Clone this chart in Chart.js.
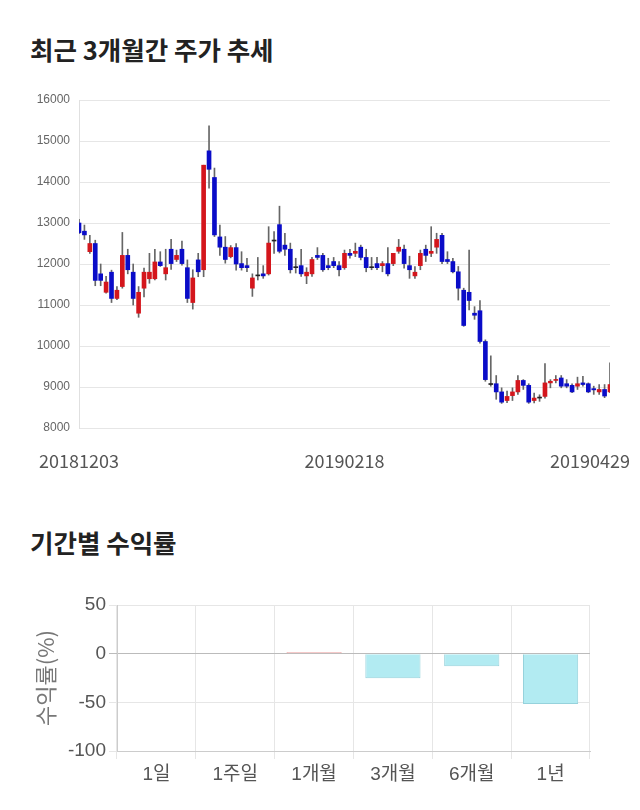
<!DOCTYPE html>
<html>
<head>
<meta charset="utf-8">
<script src="https://cdn.jsdelivr.net/npm/chart.js@4.4.1/dist/chart.umd.min.js"></script>
<style>
  body { margin: 0; background: #fff; width: 640px; height: 810px; position: relative; overflow: hidden; }
  h2 { position: absolute; left: 30px; margin: 0; font-family: "Noto Sans CJK KR", sans-serif; font-weight: bold; font-size: 25.5px; color: #222; line-height: 30px; }
  canvas { position: absolute; left: 0; }
</style>
</head>
<body>
<h2 style="top:34px">최근 3개월간 주가 추세</h2>
<canvas id="priceChart" width="640" height="400" style="top:80px"></canvas>
<h2 style="top:527px">기간별 수익률</h2>
<canvas id="returnChart" width="640" height="215" style="top:585px"></canvas>
<script>
// trading days, 2018-12-03 .. 2019-04-29
const dates = [
  '20181203','20181204','20181205','20181206','20181207','20181210','20181211','20181212','20181213','20181214',
  '20181217','20181218','20181219','20181220','20181221','20181224','20181226','20181227','20181228',
  '20190102','20190103','20190104','20190107','20190108','20190109','20190110','20190111','20190114','20190115',
  '20190116','20190117','20190118','20190121','20190122','20190123','20190124','20190125','20190128','20190129',
  '20190130','20190131','20190201','20190207','20190208','20190211','20190212','20190213','20190214','20190215',
  '20190218','20190219','20190220','20190221','20190222','20190225','20190226','20190227','20190228',
  '20190304','20190305','20190306','20190307','20190308','20190311','20190312','20190313','20190314','20190315',
  '20190318','20190319','20190320','20190321','20190322','20190325','20190326','20190327','20190328','20190329',
  '20190401','20190402','20190403','20190404','20190405','20190408','20190409','20190410','20190411','20190412',
  '20190415','20190416','20190417','20190418','20190419','20190422','20190423','20190424','20190425','20190426',
  '20190429'
];
const dateTicks = ['20181203', '20190218', '20190429'];

const opens = [
  13000,12800,12300,12500,11760,11310,11800,11160,11450,12210,11800,10800,11410,11640,11640,12050,11760,12360,12110,12360,
  11910,11060,12100,11860,14760,14110,12660,12410,12180,12400,12010,11960,11410,11710,11760,11760,12560,12960,12460,12360,
  11910,11960,11710,11760,12210,12210,11960,12060,11960,11910,12260,12260,12410,12160,11910,12010,11960,12010,12010,12310,
  12360,11960,11710,11960,12360,12260,12410,12700,12110,12060,11810,11360,11310,10800,10860,10110,9060,9080,8880,8670,
  8790,8880,9160,9040,8670,8730,8770,9100,9160,9220,9080,9040,9020,9100,9080,8960,8880,8940,8880
];
const highs = [
  13090,12950,12700,12580,12000,11700,11850,11450,12770,12360,12000,11450,11900,12260,12360,12300,12360,12600,12340,12560,
  12100,11860,12260,14410,15370,14340,12950,12670,12450,12500,12300,12140,11760,12160,11960,12910,12790,13410,12750,12510,
  12140,12360,11910,12160,12400,12260,12140,12160,12060,12340,12360,12510,12460,12360,12160,12160,12060,12400,12260,12600,
  12460,12190,11940,12340,12460,12910,12750,12750,12300,12140,11940,11410,12340,10960,11110,10150,9760,9280,8980,8900,
  8980,9280,9180,9080,8850,8810,9570,9180,9280,9280,9180,9080,9240,9260,9100,9020,9060,9060,9590
];
const lows = [
  12740,12600,12260,11470,11470,11290,11060,11130,11410,11760,11000,10700,11200,11530,11610,11940,11610,11870,12060,11970,
  11060,10900,11690,11690,13850,12670,12210,12020,12150,11850,11850,11810,11210,11610,11650,11730,12260,12270,12210,11780,
  11780,11700,11520,11700,12110,11820,11860,11910,11710,11870,12140,12180,12100,11810,11860,11860,11810,11710,11960,12260,
  11900,11650,11650,11860,12060,12180,12260,12010,12010,11780,11120,10480,10880,10650,10070,9140,9020,8700,8600,8620,
  8670,8820,8940,8600,8610,8650,8730,8980,9100,8980,8980,8860,8940,9020,8860,8820,8820,8740,8860
];
const closes = [
  12760,12710,12500,11600,11600,11560,11160,11360,12210,11860,11160,11310,11800,11800,12050,11960,11910,12010,12210,12010,
  11160,11660,11810,14410,14310,12710,12410,12110,12400,12000,11910,11910,11660,11710,11710,12510,12560,12310,12360,11860,
  11910,11760,11800,12110,12160,11860,11910,11960,11860,12260,12210,12310,12160,11910,11910,11910,12010,11760,12260,12410,
  12010,11860,11800,12260,12210,12310,12600,12060,12060,11810,11410,10500,11110,10750,10110,9180,9060,8880,8630,8770,
  8880,9160,9040,8630,8730,8730,9100,9140,9180,9020,9020,8880,9080,9060,8880,8930,8940,8780,9060
];
const priceTicks = [8000, 16000, 1000]; // min, max, step

const periods = ['1일', '1주일', '1개월', '3개월', '6개월', '1년'];
const returns = [0, 0, 1.5, -25.3, -13.0, -51.7];

const UP = 'rgb(212,22,28)';
const DOWN = 'rgb(10,12,200)';
const FLAT = '#222';

const dateLabels = {
  id: 'dateLabels',
  afterDraw(chart) {
    const ctx = chart.ctx;
    const xs = chart.scales.x;
    ctx.save();
    ctx.font = '18px "Noto Sans CJK KR", sans-serif';
    ctx.fillStyle = '#555';
    ctx.textAlign = 'center';
    ctx.textBaseline = 'middle';
    dateTicks.forEach(d => {
      const w = ctx.measureText(d).width;
      let x = xs.getPixelForValue(dates.indexOf(d));
      x = Math.min(x, chart.width - 10 - w / 2);
      ctx.fillText(d, x, 381);
    });
    ctx.restore();
  }
};

new Chart(document.getElementById('priceChart'), {
  type: 'bar',
  data: {
    labels: dates,
    datasets: [{
      data: opens.map((o, i) => [o, closes[i]]),
      backgroundColor: opens.map((o, i) => closes[i] > o ? UP : closes[i] < o ? DOWN : FLAT),
      barThickness: 4,
      minBarLength: 1,
      grouped: false
    }, {
      data: lows.map((l, i) => [l, highs[i]]),
      backgroundColor: '#666',
      barThickness: 1,
      grouped: false
    }]
  },
  options: {
    responsive: false,
    animation: false,
    devicePixelRatio: 1,
    layout: { padding: { left: 30, right: 30, top: 20, bottom: 0 } },
    plugins: { legend: { display: false }, tooltip: { enabled: false } },
    scales: {
      x: {
        offset: false,
        grid: { display: false },
        border: { display: false },
        ticks: { display: false },
        afterFit(s) { s.height = 52; }
      },
      y: {
        min: priceTicks[0],
        max: priceTicks[1],
        ticks: {
          stepSize: priceTicks[2], color: '#666', padding: 9,
          font: { size: 12, family: '"Liberation Sans", Arial, sans-serif' },
          callback: v => String(v)
        },
        grid: { color: '#e6e6e6', drawTicks: false },
        border: { color: '#e0e0e0' },
        afterFit(s) { s.width = 49; }
      }
    }
  },
  plugins: [dateLabels]
});

new Chart(document.getElementById('returnChart'), {
  type: 'bar',
  data: {
    labels: periods,
    datasets: [{
      data: returns,
      backgroundColor: returns.map(v => v >= 0 ? 'rgb(245,190,190)' : 'rgb(178,235,242)'),
      borderColor: returns.map(v => v >= 0 ? 'rgb(230,120,120)' : 'rgb(150,210,220)'),
      borderWidth: returns.map(v => v === 0 ? 0 : 1),
      barPercentage: 0.7,
      categoryPercentage: 1
    }]
  },
  options: {
    responsive: false,
    animation: false,
    devicePixelRatio: 1,
    layout: { padding: { left: 30, right: 50, top: 20, bottom: 0 } },
    plugins: { legend: { display: false }, tooltip: { enabled: false } },
    scales: {
      x: {
        grid: { color: '#e6e6e6', tickLength: 8 },
        border: { color: '#ccc' },
        ticks: { color: '#555', padding: 4, font: { size: 19, family: '"Liberation Sans", "Noto Sans CJK KR", sans-serif' } },
        afterFit(s) { s.height = 49; }
      },
      y: {
        min: -100,
        max: 50,
        ticks: { stepSize: 50, color: '#555', font: { size: 19, family: '"Liberation Sans", Arial, sans-serif' } },
        grid: { color: c => c.tick && c.tick.value === 0 ? '#bbb' : '#e6e6e6', tickLength: 8 },
        border: { color: '#ccc' },
        title: { display: true, text: '수익률(%)', color: '#777', padding: { top: 2, bottom: 4 }, font: { size: 22, family: '"Noto Sans CJK KR", sans-serif' } },
        afterFit(s) { s.width = 87; }
      }
    }
  }
});
</script>
</body>
</html>
